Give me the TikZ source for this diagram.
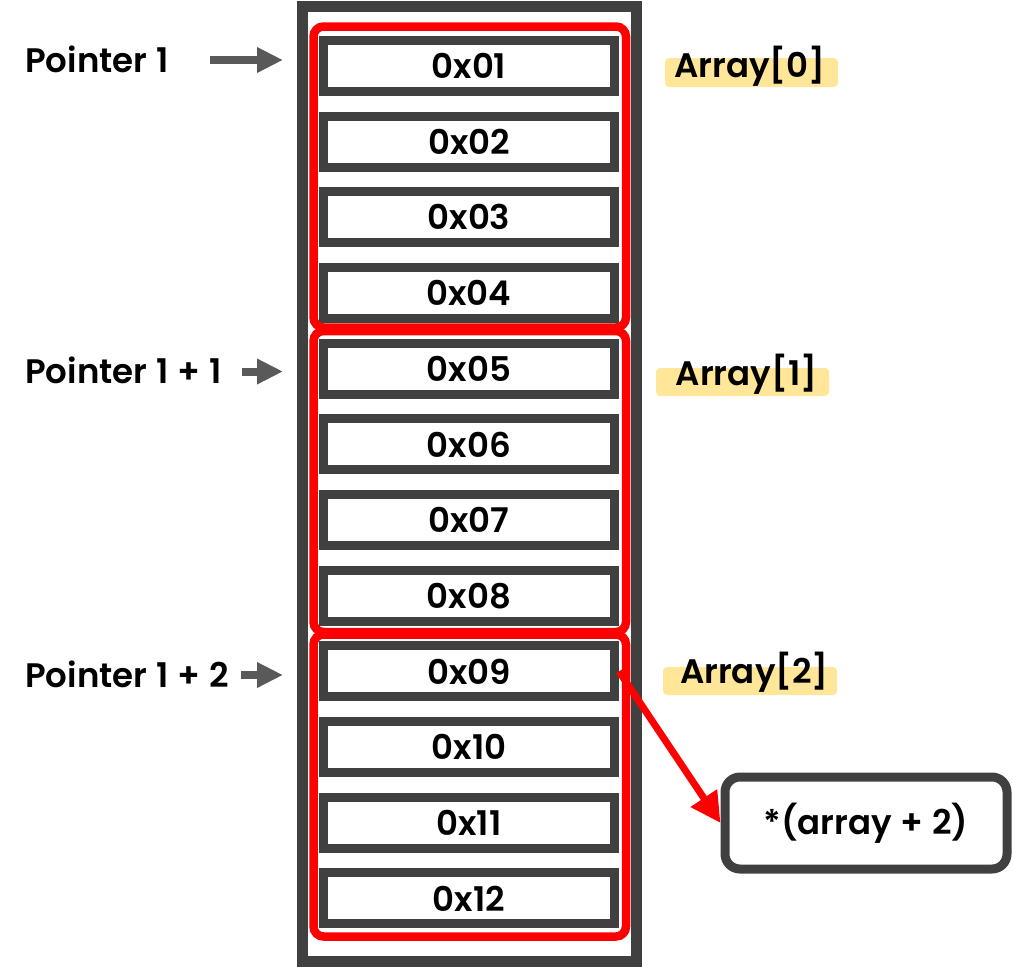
\documentclass[tikz,border=0pt]{standalone}
\usepackage{fontspec}
\setmainfont{Poppins}[BoldFont={Poppins SemiBold}]
\usetikzlibrary{arrows.meta}
\definecolor{frame}{HTML}{404040}
\definecolor{ptr}{HTML}{595959}
\definecolor{hl}{HTML}{FFE699}
\definecolor{grp}{HTML}{FF0000}
\newcommand{\wsp}{\hspace{0.26em}}
\tikzset{
  txt/.style={font=\fontsize{34}{40}\selectfont\bfseries, text=black, inner sep=0pt},
  cellbox/.style={draw=frame, line width=9pt, fill=white, minimum width=291pt, minimum height=51pt, inner sep=0pt, txt},
  groupbox/.style={draw=grp, line width=8.5pt, rounded corners=10pt},
  ptrarrow/.style={draw=ptr, line width=8pt, -{Triangle[length=26pt,width=24pt]}},
  highlight/.style={fill=hl, rounded corners=4pt},
  callout/.style={draw=frame, line width=9pt, rounded corners=15pt, fill=white, minimum width=282pt, minimum height=92pt, inner sep=0pt, txt},
  redarrow/.style={draw=grp, line width=7pt, -{Triangle[length=30pt,width=30pt]}}
}
\begin{document}
\begin{tikzpicture}[x=1pt, y=-1pt]
\useasboundingbox (0,0) rectangle (1013,967);
% outer frame
\draw[frame, line width=11pt] (302.5,6) rectangle (636,961);
% cells
\foreach \i/\lab in {1/0x01,2/0x02,3/0x03,4/0x04,5/0x05,6/0x06,7/0x07,8/0x08,9/0x09,10/0x10,11/0x11,12/0x12}{
  \node[cellbox] (c\i) at (469, {66+(\i-1)*75.68}) {\lab};
}
% group boxes
\draw[groupbox] (313.5,26.5) rectangle (626,327.5);
\draw[groupbox] (313.5,331) rectangle (626,632);
\draw[groupbox] (313.5,634.5) rectangle (626,936.5);
% pointer labels
\node[txt, anchor=base west] (p1) at (25,72) {Pointer\wsp 1};
\node[txt, anchor=base west] (p2) at (25,383) {Pointer\wsp 1\wsp +\wsp 1};
\node[txt, anchor=base west] (p3) at (25,687) {Pointer\wsp 1\wsp +\wsp 2};
\coordinate (a1s) at (210,60);   \coordinate (a1e) at (283,60);
\coordinate (a2s) at (242,371.5); \coordinate (a2e) at (283,371.5);
\coordinate (a3s) at (241,675);   \coordinate (a3e) at (283,675);
\draw[ptrarrow] (a1s) -- (a1e);
\draw[ptrarrow] (a2s) -- (a2e);
\draw[ptrarrow] (a3s) -- (a3e);
% array labels with highlight
\fill[highlight] (665,58) rectangle (838,87);
\node[txt, anchor=base] (arr0) at (750,77) {Array[0]};
\fill[highlight] (656,368) rectangle (829,396);
\node[txt, anchor=base] (arr1) at (746.5,385) {Array[1]};
\fill[highlight] (663,667) rectangle (837,695);
\node[txt, anchor=base] (arr2) at (754.5,683) {Array[2]};
% callout
\node[callout] (co) at (866,823) {*(array\wsp +\wsp 2)};
\draw[redarrow] (c9.east) -- (co.west);
\end{tikzpicture}
\end{document}
